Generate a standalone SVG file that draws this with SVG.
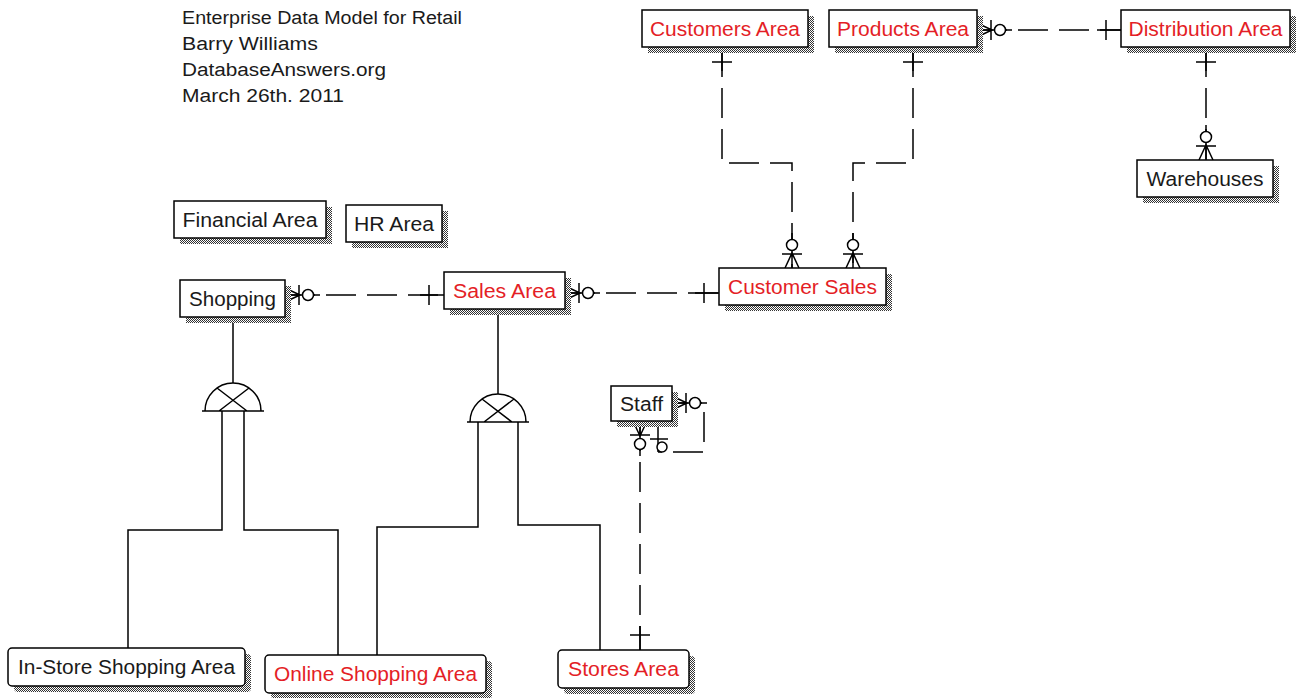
<svg xmlns="http://www.w3.org/2000/svg" width="1308" height="698" viewBox="0 0 1308 698">
<style>
.box{fill:#fff;stroke:#000;stroke-width:1.5}
.sh{fill:url(#dots)}
.t{font-family:"Liberation Sans",Arial,sans-serif;font-size:20px;text-anchor:middle;fill:#1a1a1a}
.r{fill:#e41e26}
.title{font-family:"Liberation Sans",Arial,sans-serif;font-size:18px;fill:#1a1a1a}
.dash{fill:none;stroke:#000;stroke-width:1.5;stroke-dasharray:30 11}
.solid{fill:none;stroke:#000;stroke-width:1.5}
.sym{fill:none;stroke:#000;stroke-width:1.5}
.sym circle{fill:#fff}
</style>
<defs>
<pattern id="dots" width="2" height="2" patternUnits="userSpaceOnUse">
<rect width="2" height="2" fill="#fff"/>
<rect width="1" height="1" fill="#333"/>
<rect x="1" y="1" width="1" height="1" fill="#333"/>
</pattern>
<g id="zm" class="sym">
<path d="M0,0 V-15 M-7,0 L0,-15 L7,0 M-10,-14 H10 M0,-28 V-35"/>
<circle cx="0" cy="-23" r="5.5"/>
</g>
<g id="one" class="sym">
<path d="M0,0 V-24 M-10,-15 H10"/>
</g>
<g id="sub" class="sym">
<path d="M-31,0 H31 M-28,0 A28,28 0 0 1 28,0 M-16,-23 L14,0 M16,-23 L-14,0"/>
</g>
</defs>

<g id="title">
<text class="title" x="182" y="24" textLength="280" lengthAdjust="spacingAndGlyphs">Enterprise Data Model for Retail</text>
<text class="title" x="182" y="50" textLength="136" lengthAdjust="spacingAndGlyphs">Barry Williams</text>
<text class="title" x="182" y="76" textLength="204" lengthAdjust="spacingAndGlyphs">DatabaseAnswers.org</text>
<text class="title" x="182" y="102" textLength="162" lengthAdjust="spacingAndGlyphs">March 26th. 2011</text>
</g>

<g id="connectors">
<path class="dash" d="M722,47 V163 H792 V268"/>
<path class="dash" d="M913,47 V163 H853 V268"/>
<path class="dash" d="M977,30 H1121"/>
<path class="dash" d="M1206,47 V160"/>
<path class="dash" d="M285,295 H444"/>
<path class="dash" d="M565,293 H719"/>
<path class="dash" d="M672,403 H704 V452 H658"/>
<path class="solid" d="M658,421 V452"/>
<path class="dash" d="M640,421 V650"/>
<path class="solid" d="M233,317 V383"/>
<path class="solid" d="M222,411 V530 H128 V648"/>
<path class="solid" d="M244,411 V530 H338 V655"/>
<path class="solid" d="M498,309 V394"/>
<path class="solid" d="M478,422 V527 H377 V655"/>
<path class="solid" d="M518,422 V525 H600 V650"/>
<use href="#one" transform="translate(722,47) rotate(180)"/>
<use href="#zm" transform="translate(792,268)"/>
<use href="#one" transform="translate(913,47) rotate(180)"/>
<use href="#zm" transform="translate(853,268)"/>
<use href="#zm" transform="translate(977,30) rotate(90)"/>
<use href="#one" transform="translate(1121,30) rotate(-90)"/>
<use href="#one" transform="translate(1206,47) rotate(180)"/>
<use href="#zm" transform="translate(1206,160)"/>
<use href="#zm" transform="translate(285,295) rotate(90)"/>
<use href="#one" transform="translate(444,295) rotate(-90)"/>
<use href="#zm" transform="translate(565,293) rotate(90)"/>
<use href="#one" transform="translate(719,293) rotate(-90)"/>
<use href="#zm" transform="translate(672,403) rotate(90)"/>
<use href="#zm" transform="translate(640,421) rotate(180)"/>
<use href="#one" transform="translate(640,650)"/>
<g class="sym"><path d="M650,439 H668"/><circle cx="662" cy="447" r="5"/></g>
<use href="#sub" transform="translate(233,411)"/>
<use href="#sub" transform="translate(498,422)"/>
</g>

<g id="customers-area"><rect class="sh" x="648" y="16" width="166" height="37"/><rect class="box" x="642" y="10" width="166" height="37"/><text class="t r" x="725" y="36" textLength="150" lengthAdjust="spacingAndGlyphs">Customers Area</text></g>
<g id="products-area"><rect class="sh" x="835" y="16" width="148" height="37"/><rect class="box" x="829" y="10" width="148" height="37"/><text class="t r" x="903" y="36" textLength="132" lengthAdjust="spacingAndGlyphs">Products Area</text></g>
<g id="distribution-area"><rect class="sh" x="1127" y="16" width="169" height="37"/><rect class="box" x="1121" y="10" width="169" height="37"/><text class="t r" x="1205.5" y="36" textLength="154" lengthAdjust="spacingAndGlyphs">Distribution Area</text></g>
<g id="warehouses"><rect class="sh" x="1143" y="166" width="136" height="37"/><rect class="box" x="1137" y="160" width="136" height="37"/><text class="t" x="1205" y="186" textLength="117" lengthAdjust="spacingAndGlyphs">Warehouses</text></g>
<g id="financial-area"><rect class="sh" x="180" y="207" width="152" height="37"/><rect class="box" x="174" y="201" width="152" height="37"/><text class="t" x="250" y="227" textLength="135" lengthAdjust="spacingAndGlyphs">Financial Area</text></g>
<g id="hr-area"><rect class="sh" x="352" y="211" width="96" height="37"/><rect class="box" x="346" y="205" width="96" height="37"/><text class="t" x="394" y="231" textLength="80" lengthAdjust="spacingAndGlyphs">HR Area</text></g>
<g id="shopping"><rect class="sh" x="186" y="286" width="105" height="37"/><rect class="box" x="180" y="280" width="105" height="37"/><text class="t" x="232.5" y="306" textLength="87" lengthAdjust="spacingAndGlyphs">Shopping</text></g>
<g id="sales-area"><rect class="sh" x="450" y="278" width="121" height="37"/><rect class="box" x="444" y="272" width="121" height="37"/><text class="t r" x="504.5" y="298" textLength="103" lengthAdjust="spacingAndGlyphs">Sales Area</text></g>
<g id="customer-sales"><rect class="sh" x="725" y="274" width="167" height="37"/><rect class="box" x="719" y="268" width="167" height="37"/><text class="t r" x="802.5" y="294" textLength="149" lengthAdjust="spacingAndGlyphs">Customer Sales</text></g>
<g id="staff"><rect class="sh" x="617" y="392" width="61" height="35"/><rect class="box" x="611" y="386" width="61" height="35"/><text class="t" x="641.5" y="411" textLength="43" lengthAdjust="spacingAndGlyphs">Staff</text></g>
<g id="in-store-shopping-area"><rect class="sh" x="14" y="654" width="237" height="38" rx="4"/><rect class="box" x="8" y="648" width="237" height="38" rx="4"/><text class="t" x="126.5" y="674" textLength="217" lengthAdjust="spacingAndGlyphs">In-Store Shopping Area</text></g>
<g id="online-shopping-area"><rect class="sh" x="271" y="661" width="221" height="38" rx="4"/><rect class="box" x="265" y="655" width="221" height="38" rx="4"/><text class="t r" x="375.5" y="681" textLength="203" lengthAdjust="spacingAndGlyphs">Online Shopping Area</text></g>
<g id="stores-area"><rect class="sh" x="564" y="656" width="131" height="38" rx="4"/><rect class="box" x="558" y="650" width="131" height="38" rx="4"/><text class="t r" x="623.5" y="676" textLength="111" lengthAdjust="spacingAndGlyphs">Stores Area</text></g>
</svg>
